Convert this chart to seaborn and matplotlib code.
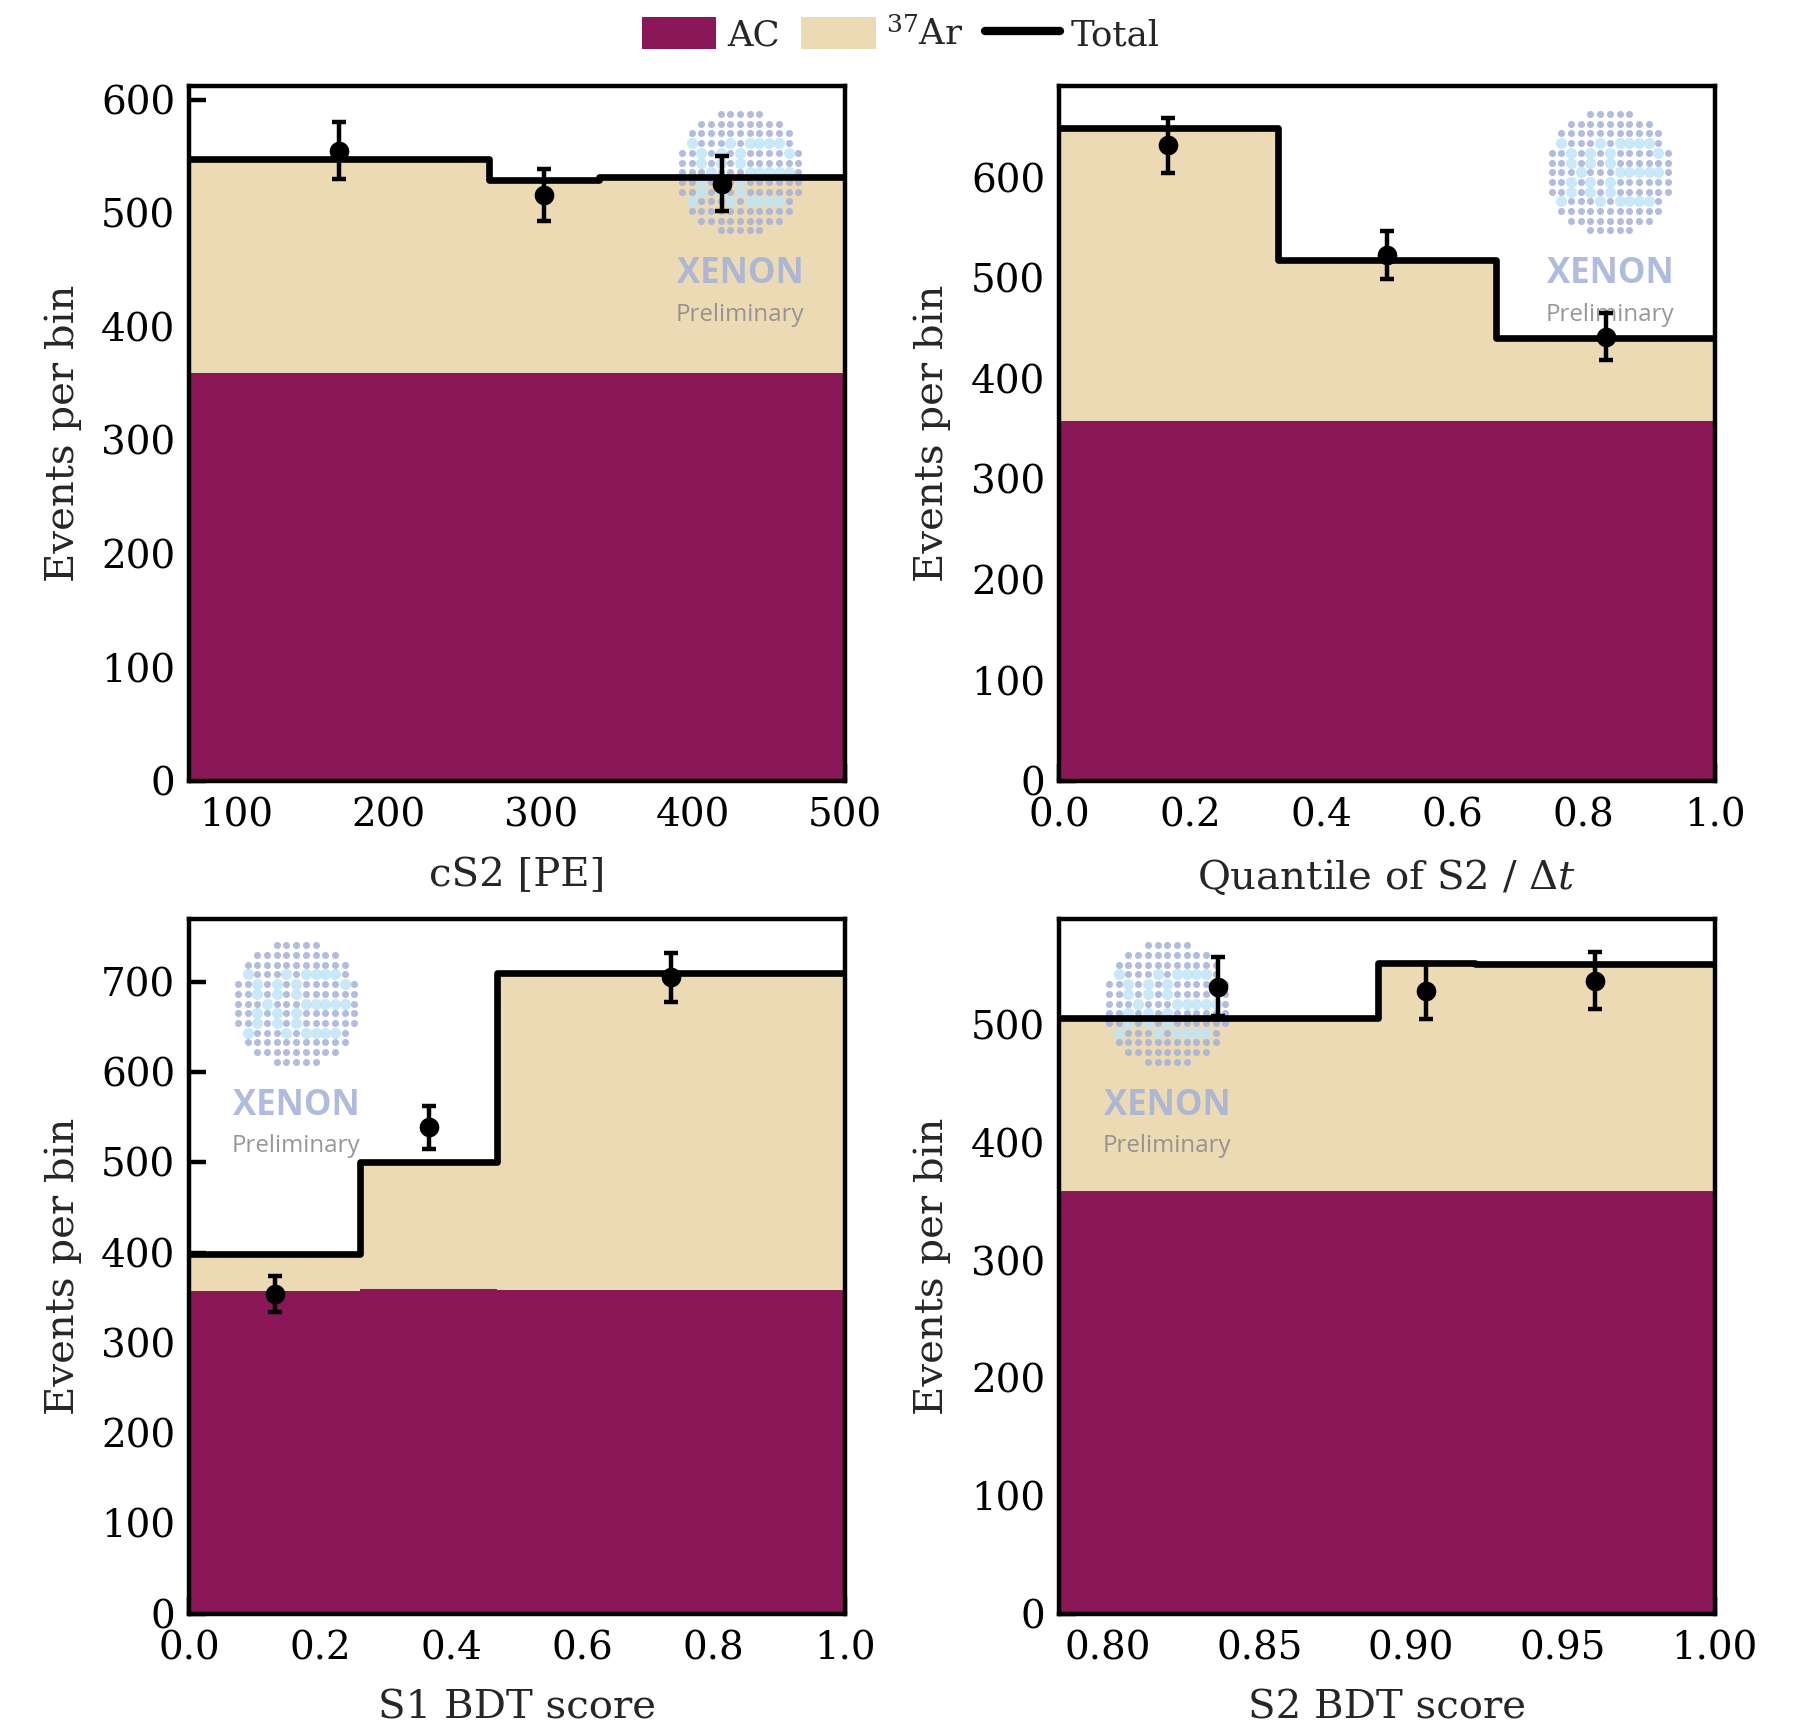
import numpy as np
import pandas as pd
import matplotlib
matplotlib.use("Agg")
import matplotlib.pyplot as plt
import seaborn as sns
from matplotlib.patches import Patch
from matplotlib.lines import Line2D

# ---------------- data ----------------
cs2_edges = [69, 266, 338, 500]
cs2_ac = [359, 359, 359]
cs2_ar = [189, 170, 173]
cs2_obs = [555, 516, 526]
cs2_err = [25, 23, 24]

q_edges = [0.0, 0.3333, 0.6667, 1.0]
q_ac = [358, 358, 358]
q_ar = [291, 160, 83]
q_obs = [632, 523, 442]
q_err = [27, 24, 23]

s1_edges = [0.0, 0.26, 0.47, 1.0]
s1_ac = [358, 360, 359]
s1_ar = [41, 141, 351]
s1_obs = [354, 539, 705]
s1_err = [20, 24, 27]

s2_edges = [0.784, 0.889, 0.921, 1.0]
s2_ac = [359, 359, 359]
s2_ar = [147, 194, 193]
s2_obs = [533, 529, 538]
s2_err = [25, 24, 24]

xlabels = ["cS2 [PE]", r"Quantile of S2 / $\Delta t$", "S1 BDT score", "S2 BDT score"]
ylabel = "Events per bin"
legend_labels = ["AC", r"$^{37}$Ar", "Total"]

AC_C = "#8a1858"
AR_C = "#ecdab4"

sns.set_theme(style="white")
plt.rcParams["font.family"] = ["DejaVu Serif"]
plt.rcParams["mathtext.fontset"] = "dejavuserif"

fig = plt.figure(figsize=(8.995, 8.625), dpi=200)
W, H = 0.3645, 0.4029
positions = [(0.1052, 0.5472), (0.5887, 0.5472), (0.1052, 0.0645), (0.5887, 0.0645)]
axes = [fig.add_axes([x, y, W, H]) for x, y in positions]


def watermark(ax, cx, cy):
    bb = ax.get_position()
    w_in = bb.width * fig.get_figwidth()
    h_in = bb.height * fig.get_figheight()
    sp = 0.0485
    ii, jj = np.meshgrid(np.arange(-6, 7), np.arange(-6, 7))
    ii = ii.ravel(); jj = jj.ravel()
    m = ii ** 2 + jj ** 2 <= 6.7 ** 2
    ii = ii[m]; jj = jj[m]
    cyan = set([(-5, 3), (-4, 2), (-4, 1), (-3, 0), (-2, -1), (-2, -2), (-1, -3),
                (-1, 3), (-2, 2), (-2, 1), (-4, -1), (-4, -2), (-5, -3),
                (1, 3), (2, 3), (3, 3), (4, 3), (0, 2), (5, 2), (0, 1), (1, 0), (2, 0),
                (3, 0), (4, 0), (5, 0), (0, -1), (0, -2), (1, -3), (2, -3), (3, -3), (4, -3)])
    isc = np.array([(a, b) in cyan for a, b in zip(ii, jj)])
    xs = cx + ii * sp / w_in
    ys = cy + jj * sp / h_in
    ax.scatter(xs[~isc], ys[~isc], s=6.5, color="#a5b2d8", alpha=0.85, linewidths=0,
               transform=ax.transAxes, zorder=3.5)
    ax.scatter(xs[isc], ys[isc], s=16, color="#c0e5f7", alpha=0.85, linewidths=0,
               transform=ax.transAxes, zorder=3.5)
    ax.text(cx, cy - 0.147, "XENON", transform=ax.transAxes, ha="center", va="center",
            fontsize=12.5, fontweight="bold", family=["Open Sans", "DejaVu Sans"],
            color="#a3b1d8", alpha=0.85, zorder=3.6)
    ax.text(cx, cy - 0.205, "Preliminary", transform=ax.transAxes, ha="center", va="center",
            fontsize=8.7, family=["Open Sans", "DejaVu Sans"], color="#8c8c8c",
            alpha=0.9, zorder=3.6)


def panel(ax, edges, ac, ar, obs, err, xlim, ylim, xticks, xfmt, yticks, xlabel, wm):
    edges = [float(e) for e in edges]
    centers = [0.5 * (a + b) for a, b in zip(edges[:-1], edges[1:])]
    ac = np.asarray(ac, float)
    tot = ac + np.asarray(ar, float)
    df = pd.DataFrame({"x": centers, "ac": ac, "tot": tot, "obs": obs, "err": err})
    sns.histplot(data=df, x="x", weights="tot", bins=edges, element="step", fill=True,
                 color=AR_C, alpha=1, linewidth=0, ax=ax, zorder=3)
    sns.histplot(data=df, x="x", weights="ac", bins=edges, element="step", fill=True,
                 color=AC_C, alpha=1, linewidth=0, ax=ax, zorder=3.1)
    watermark(ax, *wm)
    sns.histplot(data=df, x="x", weights="tot", bins=edges, element="step", fill=False,
                 color="black", linewidth=2.4, ax=ax, zorder=4)
    ax.errorbar(df["x"], df["obs"], yerr=df["err"], fmt="none", ecolor="black",
                elinewidth=1.6, capsize=2.5, capthick=1.6, zorder=6)
    sns.scatterplot(data=df, x="x", y="obs", color="black", s=50, linewidth=0, ax=ax,
                    zorder=7)
    ax.set_xlim(*xlim)
    ax.set_ylim(*ylim)
    ax.set_xticks(xticks)
    ax.set_xticklabels([xfmt.format(t) for t in xticks])
    ax.set_yticks(yticks)
    ax.set_xlabel(xlabel, fontsize=14.5, labelpad=8)
    ax.set_ylabel(ylabel, fontsize=14.5, labelpad=7)
    ax.tick_params(axis="both", which="major", direction="in", length=6, width=1.6,
                   labelsize=14, pad=5, left=True, bottom=True, top=False, right=False,
                   colors="black")
    ax.tick_params(axis="x", pad=6)
    ax.grid(False)
    for s in ax.spines.values():
        s.set_linewidth(1.6)
        s.set_color("black")
        s.set_zorder(8)


panel(axes[0], cs2_edges, cs2_ac, cs2_ar, cs2_obs, cs2_err, (69, 500), (0, 612),
      [100, 200, 300, 400, 500], "{:.0f}", [0, 100, 200, 300, 400, 500, 600], xlabels[0],
      (0.84, 0.876))
panel(axes[1], q_edges, q_ac, q_ar, q_obs, q_err, (0, 1), (0, 691),
      [0.0, 0.2, 0.4, 0.6, 0.8, 1.0], "{:.1f}", [0, 100, 200, 300, 400, 500, 600], xlabels[1],
      (0.84, 0.876))
panel(axes[2], s1_edges, s1_ac, s1_ar, s1_obs, s1_err, (0, 1), (0, 770),
      [0.0, 0.2, 0.4, 0.6, 0.8, 1.0], "{:.1f}", [0, 100, 200, 300, 400, 500, 600, 700],
      xlabels[2], (0.163, 0.878))
panel(axes[3], s2_edges, s2_ac, s2_ar, s2_obs, s2_err, (0.784, 1.0), (0, 590.6),
      [0.80, 0.85, 0.90, 0.95, 1.00], "{:.2f}", [0, 100, 200, 300, 400, 500], xlabels[3],
      (0.165, 0.878))

handles = [Patch(facecolor=AC_C, edgecolor="none"), Patch(facecolor=AR_C, edgecolor="none"),
           Line2D([0], [0], color="black", linewidth=3)]
fig.legend(handles, legend_labels, loc="center", bbox_to_anchor=(0.5006, 0.98), ncol=3,
           frameon=False, fontsize=12.8, handlelength=2.1, handleheight=1.0,
           handletextpad=0.3, columnspacing=0.6)

fig.savefig("out.png", dpi=200)
